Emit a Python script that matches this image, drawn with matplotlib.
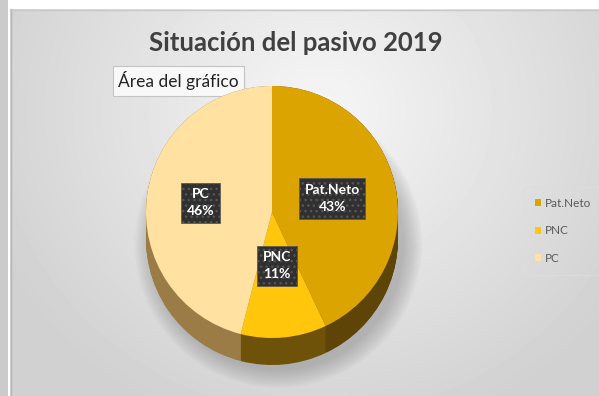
import numpy as np
import matplotlib.pyplot as plt
from matplotlib.patches import Rectangle, Ellipse

plt.rcParams['font.family'] = ['Lato', 'DejaVu Sans']

# pasivo 2019 breakdown (percent)
categories = ['Pat.Neto', 'PNC', 'PC']
shares = [43, 11, 46]
top_colors = ['#DBA400', '#FFC60B', '#FFE1A1']
side_colors = ['#5E4407', '#6F520A', '#9C7C46']
label_dist = [0.49, 0.43, 0.57]
title = 'Situación del pasivo 2019'
tooltip = 'Área del gráfico'

W, H = 599, 396
fig = plt.figure(figsize=(W / 100, H / 100), dpi=100)

# background, pixel coordinates
bg = fig.add_axes([0, 0, 1, 1])
bg.set_xlim(0, W)
bg.set_ylim(H, 0)
bg.axis('off')
yy, xx = np.mgrid[0:H, 0:W]
d = np.sqrt(((xx - 320) / 340) ** 2 + ((yy - 110) / 320) ** 2)
shade = np.clip(0.965 - 0.14 * d, 0.82, 0.965)
bg.imshow(shade, cmap='gray', vmin=0, vmax=1, extent=(0, W, H, 0),
          aspect='auto', interpolation='bilinear')
bg.add_patch(Rectangle((0, 0), W, 9, color='white', lw=0))
bg.add_patch(Rectangle((0, 0), 8, H, color='#cbcbcb', lw=0))
bg.add_patch(Rectangle((8, 0), 2, H, color='white', lw=0))
bg.plot([10.5, 10.5], [9, H], color='#b5b5b5', lw=1)
bg.plot([10, W], [9.5, 9.5], color='#c8c8c8', lw=1)

bg.text(296, 43, title, ha='center', va='center', fontsize=18.5,
        fontweight='bold', color='#404040')
bg.text(118, 81, tooltip, ha='left', va='center', fontsize=12.5,
        color='#222222',
        bbox=dict(boxstyle='square,pad=0.3', fc='#f8f8f8', ec='#c4c4c4', lw=0.8))

# pie axes: radius R px, centre (cx, cy) px, side depth px
R, cx, cy, depth = 126, 272, 212, 27
dep = depth / R
m = 0.2
ax = fig.add_axes([(cx - R * (1 + m)) / W,
                   (H - (cy + R * (1 + dep + m))) / H,
                   2 * R * (1 + m) / W,
                   R * (2 + dep + 2 * m) / H])

# soft shadow under the pie
for s in np.linspace(1.0, 1.14, 10):
    ax.add_patch(Ellipse((0.05, -dep - 0.04), 2 * s, 2 * s,
                         fc='#6e6e6e', alpha=0.045, lw=0, zorder=0))

# side of the pie
for off in np.linspace(dep, 0, 30):
    ax.pie(shares, colors=side_colors, startangle=90, counterclock=False,
           center=(0, -off), radius=1, wedgeprops=dict(lw=0))

wedges, _ = ax.pie(shares, colors=top_colors, startangle=90,
                   counterclock=False, radius=1, wedgeprops=dict(lw=0))

for w, name, val, r in zip(wedges, categories, shares, label_dist):
    ang = np.deg2rad((w.theta1 + w.theta2) / 2)
    ax.text(r * np.cos(ang), r * np.sin(ang), f'{name}\n{val}%',
            ha='center', va='center', color='white', fontsize=10,
            fontweight='bold', linespacing=1.5, zorder=5,
            bbox=dict(boxstyle='square,pad=0.4', fc='#303030', ec='#555555',
                      hatch='...', lw=0.5))

ax.set_aspect('auto')
ax.set_xlim(-1 - m, 1 + m)
ax.set_ylim(-1 - dep - m, 1 + m)
ax.axis('off')

leg = fig.legend(wedges, categories, loc='center left',
                 bbox_to_anchor=(518 / W, 1 - 231 / H), fontsize=8.5,
                 labelcolor='#595959', frameon=True, fancybox=False,
                 edgecolor='#dddddd', facecolor='none', handlelength=0.55,
                 handleheight=0.55, handletextpad=0.35, labelspacing=1.4,
                 borderpad=0.9)
leg.get_frame().set_linewidth(0.8)

fig.savefig('out.png', dpi=100)
